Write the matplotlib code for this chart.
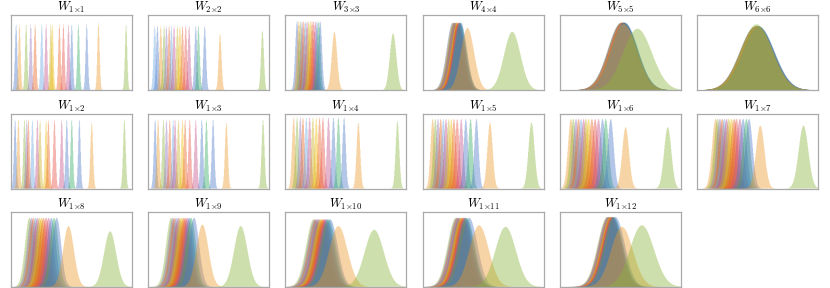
# small multiples of weight histograms, one panel per kernel shape

import numpy as np
import matplotlib.pyplot as plt

plt.rcParams["mathtext.fontset"] = "cm"

titles = ["1{\\times}1", "2{\\times}2", "3{\\times}3", "4{\\times}4", "5{\\times}5", "6{\\times}6",
          "1{\\times}2", "1{\\times}3", "1{\\times}4", "1{\\times}5", "1{\\times}6", "1{\\times}7",
          "1{\\times}8", "1{\\times}9", "1{\\times}10", "1{\\times}11", "1{\\times}12"]

# peak centres of the clustered histograms (fraction of the x range)
cluster_pos = [
    [0.044, 0.072, 0.127, 0.165, 0.201, 0.256, 0.292, 0.331, 0.344, 0.402, 0.435, 0.477, 0.504, 0.559, 0.628],
    [0.055, 0.077, 0.105, 0.132, 0.152, 0.174, 0.193, 0.215, 0.242, 0.262, 0.284, 0.311, 0.339, 0.394, 0.416, 0.468],
    [0.096, 0.110, 0.124, 0.138, 0.151, 0.165, 0.179, 0.192, 0.206, 0.220, 0.233, 0.247, 0.261, 0.275, 0.288],
    [0.247, 0.252, 0.257, 0.262, 0.266, 0.271, 0.276, 0.281, 0.286, 0.291, 0.296, 0.301, 0.306, 0.311, 0.315],
    [0.505, 0.508, 0.510, 0.512, 0.514, 0.516, 0.518, 0.520, 0.522, 0.524, 0.526, 0.528, 0.530, 0.532, 0.535],
    [0.480, 0.482, 0.484, 0.486, 0.488, 0.490, 0.492, 0.494, 0.496, 0.498, 0.500, 0.502, 0.504, 0.506, 0.508],
    [0.036, 0.063, 0.113, 0.132, 0.146, 0.179, 0.220, 0.242, 0.292, 0.311, 0.361, 0.421, 0.463, 0.504, 0.567],
    [0.058, 0.083, 0.127, 0.152, 0.179, 0.207, 0.223, 0.251, 0.284, 0.306, 0.344, 0.394, 0.444, 0.482, 0.537],
    [0.068, 0.096, 0.123, 0.145, 0.173, 0.200, 0.227, 0.255, 0.282, 0.310, 0.356, 0.397, 0.438, 0.485],
    [0.082, 0.104, 0.126, 0.148, 0.170, 0.192, 0.214, 0.236, 0.258, 0.285, 0.318, 0.356, 0.395, 0.444],
    [0.090, 0.110, 0.132, 0.153, 0.173, 0.195, 0.214, 0.236, 0.263, 0.290, 0.318, 0.351, 0.378, 0.419],
    [0.151, 0.167, 0.186, 0.205, 0.222, 0.241, 0.260, 0.282, 0.304, 0.323, 0.351, 0.378, 0.405, 0.427],
    [0.154, 0.171, 0.187, 0.204, 0.220, 0.237, 0.253, 0.270, 0.292, 0.314, 0.336, 0.358, 0.380],
    [0.190, 0.205, 0.220, 0.235, 0.250, 0.265, 0.280, 0.295, 0.310, 0.325, 0.340, 0.355, 0.380],
    [0.233, 0.244, 0.255, 0.266, 0.277, 0.288, 0.299, 0.310, 0.321, 0.332, 0.343, 0.355, 0.370],
    [0.274, 0.282, 0.290, 0.298, 0.306, 0.314, 0.322, 0.330, 0.338, 0.346, 0.354, 0.362, 0.384],
    [0.389, 0.394, 0.399, 0.404, 0.409, 0.414, 0.419, 0.424, 0.429, 0.434, 0.439, 0.444, 0.458],
]
cluster_sd = [0.0095, 0.011, 0.015, 0.050, 0.110, 0.130, 0.010, 0.011, 0.014, 0.018,
              0.025, 0.030, 0.037, 0.042, 0.062, 0.068, 0.078]
cluster_h = [0.88, 0.86, 0.92, 0.90, 0.90, 0.85, 0.92, 0.92, 0.95, 0.93,
             0.93, 0.93, 0.92, 0.92, 0.90, 0.92, 0.93]

# the two outlying histograms (orange, then green)
orange_pos = [0.725, 0.595, 0.405, 0.370, 0.525, 0.495, 0.669, 0.647, 0.603, 0.556,
              0.542, 0.520, 0.477, 0.449, 0.438, 0.466, 0.512]
orange_sd = [0.0095, 0.012, 0.022, 0.055, 0.110, 0.130, 0.011, 0.012, 0.015, 0.022,
             0.028, 0.035, 0.045, 0.050, 0.075, 0.080, 0.090]
orange_h = [0.90, 0.75, 0.78, 0.83, 0.88, 0.85, 0.88, 0.88, 0.88, 0.88,
            0.82, 0.84, 0.81, 0.83, 0.81, 0.82, 0.80]
olive_pos = [0.953, 0.945, 0.890, 0.740, 0.640, 0.490, 0.939, 0.950, 0.926, 0.899,
             0.890, 0.877, 0.821, 0.766, 0.734, 0.685, 0.677]
olive_sd = [0.0095, 0.012, 0.027, 0.068, 0.120, 0.130, 0.011, 0.012, 0.015, 0.025,
            0.030, 0.040, 0.050, 0.055, 0.080, 0.085, 0.100]
olive_h = [0.88, 0.80, 0.76, 0.78, 0.82, 0.88, 0.92, 0.92, 0.90, 0.88,
           0.82, 0.84, 0.74, 0.81, 0.76, 0.80, 0.82]

palette = {"blue": "#4C78C8", "orange": "#EE9A2A", "olive": "#8AB43A", "purple": "#8E6FB8",
           "orangered": "#E8601C", "lightblue": "#6AA6E0", "pink": "#C0508A",
           "gold": "#C8B020", "yellow": "#F0B800", "red": "#E84A40", "green": "#30A860"}
cluster_colors = ["lightblue", "blue", "orange", "olive", "purple", "orangered", "lightblue",
                  "pink", "gold", "yellow", "orangered", "red", "pink", "blue", "green", "blue"]

edges = np.linspace(0, 1, 301)
mids = (edges[:-1] + edges[1:]) / 2


def draw_hist(ax, mu, sd, h, color):
    w = h * np.exp(-0.5 * ((mids - mu) / sd) ** 2)
    ax.hist(mids, bins=edges, weights=w, histtype="stepfilled", color=color,
            alpha=0.42, linewidth=0)


fig, axes = plt.subplots(3, 6, figsize=(8.3, 2.88), dpi=100)
fig.subplots_adjust(left=0.013, right=0.986, top=0.947, bottom=0.004,
                    wspace=0.135, hspace=0.31)

for i, ax in enumerate(axes.flat):
    if i >= len(titles):
        ax.axis("off")
        continue
    n = len(cluster_pos[i])
    cols = cluster_colors[-n:]
    for mu, c in zip(cluster_pos[i], cols):
        draw_hist(ax, mu, cluster_sd[i], cluster_h[i], palette[c])
    draw_hist(ax, orange_pos[i], orange_sd[i], orange_h[i], palette["orange"])
    draw_hist(ax, olive_pos[i], olive_sd[i], olive_h[i], palette["olive"])
    ax.set_xlim(0, 1)
    ax.set_ylim(0, 1)
    ax.set_xticks([])
    ax.set_yticks([])
    for s in ax.spines.values():
        s.set_color("#aaaaaa")
        s.set_linewidth(0.9)
    ax.set_title("$W_{%s}$" % titles[i], fontsize=9, pad=2.5)

fig.savefig("out.png", dpi=100)
